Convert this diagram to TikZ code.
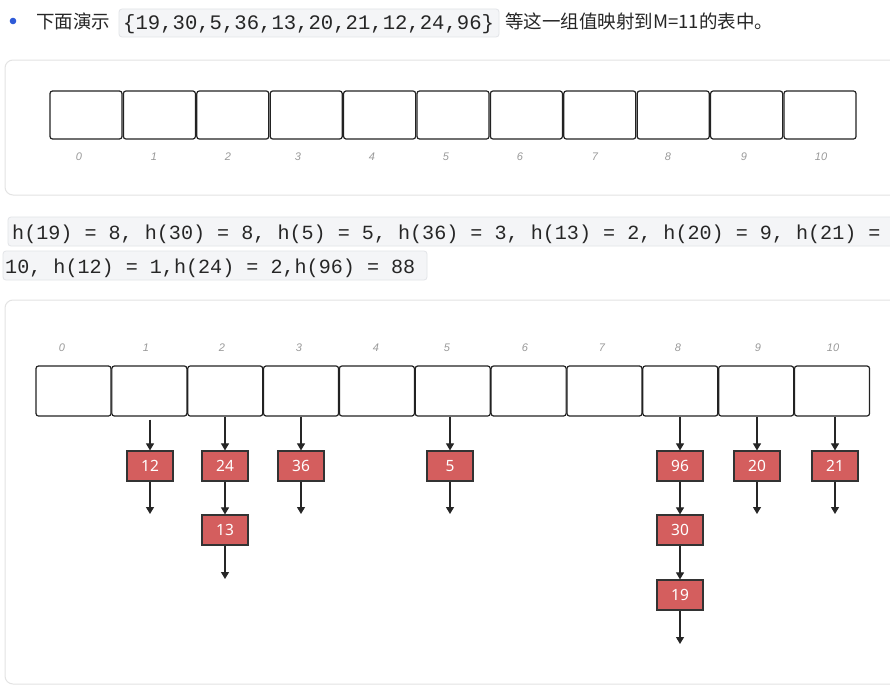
\documentclass[tikz,border=0pt]{standalone}
\usepackage{fontspec}
\setmainfont{Noto Sans}
\newfontfamily\cjk{Noto Sans CJK SC}
\newfontfamily\codefont{Liberation Mono}
\newfontfamily\lblfont{Liberation Sans}
\usetikzlibrary{arrows.meta}
\definecolor{panelline}{HTML}{E3E3E3}
\definecolor{codebg}{HTML}{F4F5F7}
\definecolor{codeline}{HTML}{E2E4E8}
\definecolor{bulletblue}{HTML}{2F5BD8}
\definecolor{redfill}{HTML}{D45E5E}
\definecolor{redline}{HTML}{333333}
\definecolor{lblgrey}{HTML}{9A9A9A}
\definecolor{celline}{HTML}{222222}
\tikzset{
  panel/.style={draw=panelline, line width=1pt, rounded corners=8pt},
  codebox/.style={fill=codebg, draw=codeline, line width=0.8pt, rounded corners=3pt},
  codetext/.style={inner sep=0pt, font=\codefont\fontsize{20.1}{24}\selectfont, text=black!85},
  codetop/.style={inner sep=0pt, font=\codefont\fontsize{20.6}{24}\selectfont, text=black!85},
  cjktext/.style={inner sep=0pt, font=\cjk\fontsize{18.5}{22}\selectfont, text=black!85},
  cellA/.style={draw=celline, line width=1.2pt, rounded corners=2.5pt, minimum width=72pt, minimum height=48pt, inner sep=0pt},
  cellB/.style={draw=celline, line width=1.2pt, rounded corners=2.5pt, minimum width=75pt, minimum height=50pt, inner sep=0pt},
  idx/.style={inner sep=0pt, text=lblgrey, font=\lblfont\itshape\fontsize{11}{13}\selectfont},
  rednode/.style={fill=redfill, draw=redline, line width=1.2pt, minimum width=46pt, minimum height=30pt, inner sep=0pt, text=white, font=\fontsize{15.5}{18}\selectfont},
  arr/.style={-{Triangle[length=7pt,width=8pt]}, line width=1.1pt, draw=black!85},
}
\begin{document}
\begin{tikzpicture}[x=1pt,y=-1pt]
\useasboundingbox (0,0) rectangle (890,685);
\fill[white] (0,0) rectangle (890,685);

% header line
\fill[bulletblue] (13,21) circle (3.3pt);
\node[cjktext, anchor=base west] (t1) at (36,29) {下面演示};
\draw[codebox] (119,9) rectangle (499,37);
\node[codetop, anchor=base west] (code1) at (123,30) {\{19,30,5,36,13,20,21,12,24,96\}};
\node[cjktext, anchor=base west] (t2) at (505,29) {等这一组值映射到M=11的表中。};

% panel 1
\draw[panel] (900,60) -- (5,60) -- (5,195) -- (900,195);
\foreach \i in {0,...,10} {
  \node[cellA] (a\i) at ({86+73.4*\i},115) {};
}
\foreach \i/\x in {0/79,1/154,2/228,3/298,4/372,5/446,6/520,7/595,8/668,9/744,10/821} {
  \node[idx] (la\i) at (\x,157) {\i};
}

% code lines
\draw[codebox] (8,217) rectangle (900,246);
\node[codetext, anchor=base west] (code2) at (12,239) {h(19) = 8, h(30) = 8, h(5) = 5, h(36) = 3, h(13) = 2, h(20) = 9, h(21) =};
\draw[codebox] (3,251) rectangle (427,280);
\node[codetext, anchor=base west] (code3) at (5,273) {10, h(12) = 1,h(24) = 2,h(96) = 88};

% panel 2
\draw[panel] (900,300) -- (5,300) -- (5,684) -- (900,684);
\foreach \i in {0,...,10} {
  \node[cellB] (b\i) at ({73.5+75.85*\i},391) {};
}
\foreach \i/\x in {0/62,1/146,2/222,3/299,4/376,5/447,6/525,7/602,8/678,9/758,10/833} {
  \node[idx] (lb\i) at (\x,348) {\i};
}

% red nodes
\node[rednode] (r12) at (150,466) {12};
\node[rednode] (r24) at (225,466) {24};
\node[rednode] (r36) at (301,466) {36};
\node[rednode] (r5)  at (450,466) {5};
\node[rednode] (r96) at (680,466) {96};
\node[rednode] (r20) at (757,466) {20};
\node[rednode] (r21) at (835,466) {21};
\node[rednode] (r13) at (225,530) {13};
\node[rednode] (r30) at (680,530) {30};
\node[rednode] (r19) at (680,595) {19};

% free ends
\coordinate (e12) at (150,514);
\coordinate (e36) at (301,514);
\coordinate (e5)  at (450,514);
\coordinate (e20) at (757,514);
\coordinate (e21) at (835,514);
\coordinate (e13) at (225,579);
\coordinate (e19) at (680,644);

% arrows from table cells
\draw[arr] (b1.south -| r12.north) ++(0,3) -- (r12.north);
\draw[arr] (b2.south -| r24.north) -- (r24.north);
\draw[arr] (b3.south -| r36.north) -- (r36.north);
\draw[arr] (b5.south -| r5.north) -- (r5.north);
\draw[arr] (b8.south -| r96.north) -- (r96.north);
\draw[arr] (b9.south -| r20.north) -- (r20.north);
\draw[arr] (b10.south -| r21.north) -- (r21.north);

% chain arrows
\draw[arr] (r12.south) -- (e12);
\draw[arr] (r36.south) -- (e36);
\draw[arr] (r5.south) -- (e5);
\draw[arr] (r20.south) -- (e20);
\draw[arr] (r21.south) -- (e21);
\draw[arr] (r24.south) -- (r13.north);
\draw[arr] (r13.south) -- (e13);
\draw[arr] (r96.south) -- (r30.north);
\draw[arr] (r30.south) -- (r19.north);
\draw[arr] (r19.south) -- (e19);
\end{tikzpicture}
\end{document}
